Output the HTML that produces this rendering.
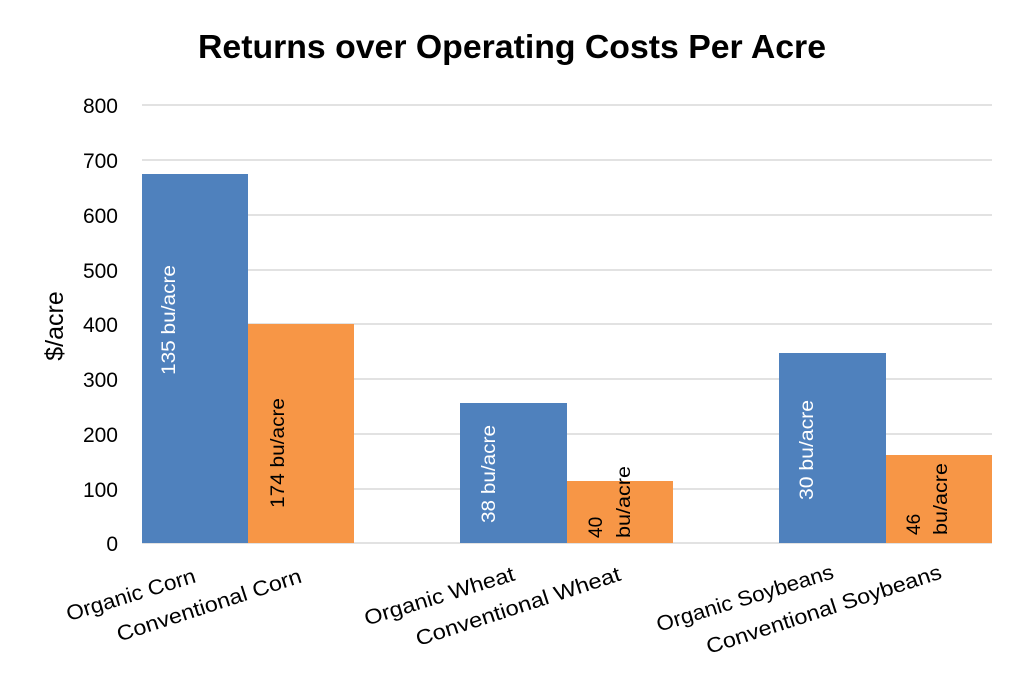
<!DOCTYPE html>
<html><head><meta charset="utf-8"><style>body{margin:0;background:#fff}svg{display:block;font-family:"Liberation Sans",sans-serif}</style></head>
<body>
<svg width="1024" height="687" viewBox="0 0 1024 687">
<rect width="1024" height="687" fill="#fff"/>
<text x="512" y="58" text-anchor="middle" font-size="33" font-weight="bold" textLength="628" lengthAdjust="spacingAndGlyphs">Returns over Operating Costs Per Acre</text>
<g stroke="#d9d9d9" stroke-width="1.5">
<line x1="142" x2="992" y1="105" y2="105"/><line x1="142" x2="992" y1="160" y2="160"/><line x1="142" x2="992" y1="215" y2="215"/><line x1="142" x2="992" y1="270" y2="270"/><line x1="142" x2="992" y1="324" y2="324"/><line x1="142" x2="992" y1="379" y2="379"/><line x1="142" x2="992" y1="434" y2="434"/><line x1="142" x2="992" y1="489" y2="489"/><line x1="142" x2="992" y1="543" y2="543"/>
</g>
<g font-size="21" text-anchor="end">
<text x="118" y="113">800</text><text x="118" y="168">700</text><text x="118" y="223">600</text><text x="118" y="278">500</text><text x="118" y="332">400</text><text x="118" y="387">300</text><text x="118" y="442">200</text><text x="118" y="497">100</text><text x="118" y="551">0</text>
</g>
<text transform="translate(63,326) rotate(-90)" text-anchor="middle" font-size="25">$/acre</text>
<rect x="142" y="174" width="106" height="369" fill="#4f81bd"/>
<rect x="248" y="324" width="106" height="219" fill="#f79646"/>
<rect x="460" y="403" width="107" height="140" fill="#4f81bd"/>
<rect x="567" y="481" width="106" height="62" fill="#f79646"/>
<rect x="779" y="353" width="107" height="190" fill="#4f81bd"/>
<rect x="886" y="455" width="106" height="88" fill="#f79646"/>
<g font-size="19">
<text transform="translate(175,375) rotate(-90)" fill="#fff" textLength="110" lengthAdjust="spacingAndGlyphs">135 bu/acre</text>
<text transform="translate(284,508) rotate(-90)" textLength="110" lengthAdjust="spacingAndGlyphs">174 bu/acre</text>
<text transform="translate(495,523) rotate(-90)" fill="#fff" textLength="98" lengthAdjust="spacingAndGlyphs">38 bu/acre</text>
<text transform="translate(602,538) rotate(-90)">40</text>
<text transform="translate(630,538) rotate(-90)" textLength="72" lengthAdjust="spacingAndGlyphs">bu/acre</text>
<text transform="translate(813,500) rotate(-90)" fill="#fff" textLength="100" lengthAdjust="spacingAndGlyphs">30 bu/acre</text>
<text transform="translate(920,535) rotate(-90)">46</text>
<text transform="translate(947,535) rotate(-90)" textLength="72" lengthAdjust="spacingAndGlyphs">bu/acre</text>
</g>
<g font-size="21" text-anchor="end">
<text transform="translate(197,582) rotate(-17)" textLength="134" lengthAdjust="spacingAndGlyphs">Organic Corn</text>
<text transform="translate(303,582) rotate(-18)" textLength="193" lengthAdjust="spacingAndGlyphs">Conventional Corn</text>
<text transform="translate(516,580) rotate(-17)" textLength="156" lengthAdjust="spacingAndGlyphs">Organic Wheat</text>
<text transform="translate(622,580) rotate(-18)" textLength="214" lengthAdjust="spacingAndGlyphs">Conventional Wheat</text>
<text transform="translate(835,578) rotate(-17)" textLength="184" lengthAdjust="spacingAndGlyphs">Organic Soybeans</text>
<text transform="translate(943,578) rotate(-18)" textLength="246" lengthAdjust="spacingAndGlyphs">Conventional Soybeans</text>
</g>
</svg>
</body></html>
